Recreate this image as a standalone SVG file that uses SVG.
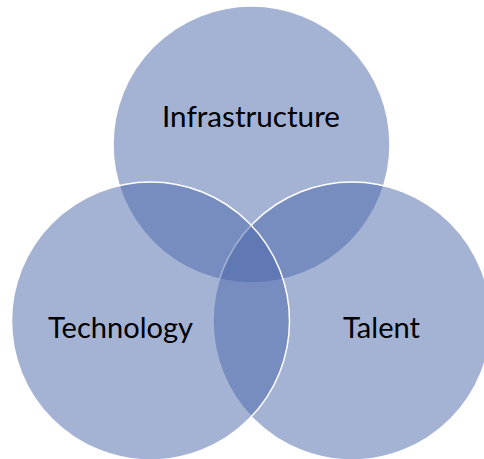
<svg xmlns="http://www.w3.org/2000/svg" width="484" height="459" viewBox="0 0 484 459">
  <style>
    .set { fill: #4A66AA; fill-opacity: 0.5; stroke: #FFFFFF; stroke-width: 1.5; }
    .label { font-family: Lato, "Open Sans", "Liberation Sans", sans-serif; font-size: 28px; fill: #000000; text-anchor: middle; }
  </style>
  <rect x="0" y="0" width="484" height="459" fill="#FFFFFF"/>
  <g id="infrastructure">
    <circle class="set" cx="251.5" cy="144.5" r="138.5"/>
    <text class="label" x="251" y="127" textLength="178" lengthAdjust="spacingAndGlyphs">Infrastructure</text>
  </g>
  <g id="talent">
    <circle class="set" cx="352" cy="321" r="139"/>
    <text class="label" x="381.5" y="338" textLength="77" lengthAdjust="spacingAndGlyphs">Talent</text>
  </g>
  <g id="technology">
    <circle class="set" cx="150.5" cy="321" r="139"/>
    <text class="label" x="120.5" y="338" textLength="145" lengthAdjust="spacingAndGlyphs">Technology</text>
  </g>
  <g id="connectors"/>
</svg>
